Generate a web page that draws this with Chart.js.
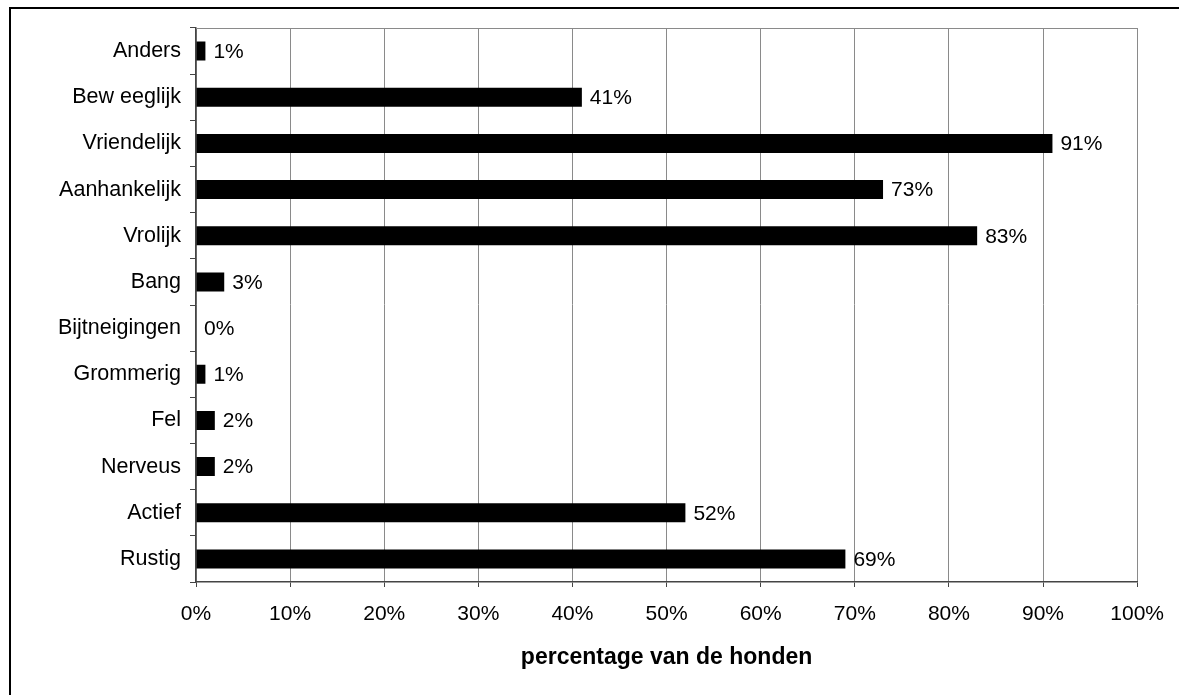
<!DOCTYPE html>
<html>
<head>
<meta charset="utf-8">
<script src="https://cdn.jsdelivr.net/npm/chart.js@4"></script>
<style>
  html, body { margin: 0; padding: 0; background: #fff; }
  #wrap { position: relative; width: 1179px; height: 695px; overflow: hidden; }
  #frame { position: absolute; left: 9px; top: 7px; width: 1300px; height: 800px;
           border-left: 2px solid #000; border-top: 2px solid #000; }
  #chart { position: absolute; left: 0; top: 0; }
</style>
</head>
<body>
<div id="wrap">
  <div id="frame"></div>
  <canvas id="chart" width="1179" height="695"></canvas>
</div>
<script>
// traits, top to bottom, with the share of dogs (%)
const traits = ['Anders', 'Bew eeglijk', 'Vriendelijk', 'Aanhankelijk', 'Vrolijk', 'Bang',
                'Bijtneigingen', 'Grommerig', 'Fel', 'Nerveus', 'Actief', 'Rustig'];
const shares = [1, 41, 91, 73, 83, 3, 0, 1, 2, 2, 52, 69];
const xTicks = [0, 10, 20, 30, 40, 50, 60, 70, 80, 90, 100];
const xTitle = 'percentage van de honden';

const FONT = "'Liberation Sans', Arial, sans-serif";

// percentage next to each bar
const valueLabels = {
    id: 'valueLabels',
    afterDatasetsDraw(chart) {
        const ctx = chart.ctx;
        const meta = chart.getDatasetMeta(0);
        ctx.save();
        ctx.font = '21px ' + FONT;
        ctx.fillStyle = '#000';
        ctx.textAlign = 'left';
        ctx.textBaseline = 'middle';
        meta.data.forEach((bar, i) => {
            ctx.fillText(shares[i] + '%', bar.x + 8, bar.y + 1);
        });
        ctx.restore();
    }
};

// grey line closing the plot area at the top
const plotTop = {
    id: 'plotTop',
    beforeDatasetsDraw(chart) {
        const { ctx, chartArea } = chart;
        ctx.save();
        ctx.strokeStyle = '#8a8a8a';
        ctx.lineWidth = 1;
        ctx.beginPath();
        ctx.moveTo(chartArea.left, chartArea.top + 0.5);
        ctx.lineTo(chartArea.right, chartArea.top + 0.5);
        ctx.stroke();
        ctx.restore();
    }
};

new Chart(document.getElementById('chart').getContext('2d'), {
    type: 'bar',
    data: {
        labels: traits,
        datasets: [{
            data: shares,
            backgroundColor: '#000',
            borderWidth: 0,
            barPercentage: 0.41,
            categoryPercentage: 1
        }]
    },
    options: {
        indexAxis: 'y',
        responsive: false,
        animation: false,
        devicePixelRatio: 1,
        layout: { padding: { top: 28, right: 41, left: 0, bottom: 0 } },
        plugins: { legend: { display: false }, tooltip: { enabled: false } },
        scales: {
            x: {
                min: 0,
                max: 100,
                afterBuildTicks: (scale) => { scale.ticks = xTicks.map(v => ({ value: v })); },
                afterFit: (scale) => { scale.height = 113; },
                grid: { color: '#8a8a8a', lineWidth: 1, tickLength: 5, tickColor: '#444' },
                border: { color: '#444', width: 1.5 },
                ticks: {
                    color: '#000',
                    font: { family: FONT, size: 21 },
                    padding: 15,
                    maxRotation: 0,
                    callback: (v) => v + '%'
                },
                title: {
                    display: true,
                    text: xTitle,
                    color: '#000',
                    font: { family: FONT, size: 23, weight: 'bold' },
                    padding: { top: 0, bottom: 24 }
                }
            },
            y: {
                afterFit: (scale) => { scale.width = 196; },
                grid: { drawOnChartArea: false, tickLength: 6, color: '#444' },
                border: { color: '#444', width: 1.5 },
                ticks: {
                    color: '#000',
                    font: { family: FONT, size: 21.5 },
                    padding: 9,
                    autoSkip: false
                }
            }
        }
    },
    plugins: [plotTop, valueLabels]
});
</script>
</body>
</html>
